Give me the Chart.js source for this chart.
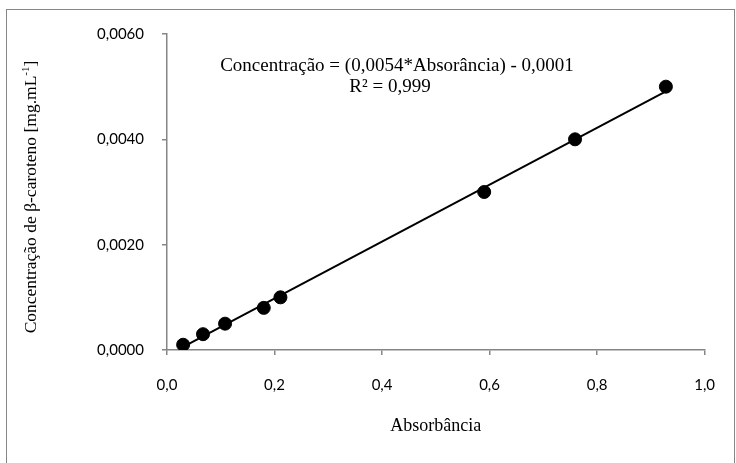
<!DOCTYPE html>
<html>
<head>
<meta charset="utf-8">
<script src="https://cdn.jsdelivr.net/npm/chart.js@4.4.0/dist/chart.umd.min.js"></script>
<style>
    html, body { margin: 0; padding: 0; background: #ffffff; }
    #wrap { width: 736px; height: 463px; position: relative; }
</style>
</head>
<body>
<div id="wrap"><canvas id="calChart" width="736" height="463"></canvas></div>
<script>
const absorbancia = [0.03, 0.067, 0.108, 0.18, 0.211, 0.59, 0.759, 0.928];
const concentracao = [0.0001, 0.0003, 0.0005, 0.0008, 0.001, 0.003, 0.004, 0.005];

// end points of the fitted line as drawn
const trendX = [0.03, 0.928];
const trendY = [0.00006, 0.00491];

const xTicks = [0, 0.2, 0.4, 0.6, 0.8, 1.0];
const yTicks = [0, 0.002, 0.004, 0.006];

const equationText = "Concentração = (0,0054*Absorância) - 0,0001";
const r2Text = "R² = 0,999";
const xTitle = "Absorbância";
const yTitleMain = "Concentração de β-caroteno [mg.mL";
const yTitleSup = "-1";
const yTitleEnd = "]";

const axisGray = "#868686";
const serif = "'Liberation Serif', 'DejaVu Serif', serif";
const sans = "Lato, 'Open Sans', sans-serif";

function toPoints(xs, ys) {
    return xs.map((x, i) => ({ x: x, y: ys[i] }));
}

function commaNum(v, digits) {
    return v.toFixed(digits).replace(".", ",");
}

// frame, titles and equation
const decorPlugin = {
    id: "decor",
    beforeDraw(chart) {
        const ctx = chart.ctx;
        ctx.save();
        ctx.fillStyle = "#ffffff";
        ctx.fillRect(0, 0, chart.width, chart.height);
        ctx.strokeStyle = axisGray;
        ctx.lineWidth = 1;
        ctx.strokeRect(6.5, 9.5, 728, 470);
        ctx.restore();
    },
    afterDraw(chart) {
        const ctx = chart.ctx;
        const area = chart.chartArea;
        ctx.save();
        ctx.fillStyle = "#000000";
        ctx.textAlign = "center";
        ctx.textBaseline = "middle";
        ctx.font = "19px " + serif;
        ctx.fillText(equationText, 397, 66);
        ctx.fillText(r2Text, 390, 87);

        ctx.font = "18px " + serif;
        ctx.fillText(xTitle, (area.left + area.right) / 2, 426);

        // rotated y title with a real superscript
        const mainFont = "17.5px " + serif;
        const supFont = "11px " + serif;
        ctx.font = mainFont;
        const wMain = ctx.measureText(yTitleMain).width;
        const wEnd = ctx.measureText(yTitleEnd).width;
        ctx.font = supFont;
        const wSup = ctx.measureText(yTitleSup).width;
        const total = wMain + wSup + wEnd;

        ctx.translate(30, 197);
        ctx.rotate(-Math.PI / 2);
        ctx.textAlign = "left";
        ctx.textBaseline = "alphabetic";
        let x = -total / 2;
        ctx.font = mainFont;
        ctx.fillText(yTitleMain, x, 6);
        x += wMain;
        ctx.font = supFont;
        ctx.fillText(yTitleSup, x, -1);
        x += wSup;
        ctx.font = mainFont;
        ctx.fillText(yTitleEnd, x, 6);
        ctx.restore();
    },
};

const ctx = document.getElementById("calChart").getContext("2d");

new Chart(ctx, {
    type: "scatter",
    data: {
        datasets: [
            {
                label: "Linear",
                type: "line",
                data: toPoints(trendX, trendY),
                borderColor: "#000000",
                borderWidth: 2,
                pointRadius: 0,
                fill: false,
                order: 2,
            },
            {
                label: "Padrões",
                data: toPoints(absorbancia, concentracao),
                backgroundColor: "#000000",
                borderColor: "#000000",
                pointRadius: 6.5,
                pointHoverRadius: 6.5,
                order: 1,
            },
        ],
    },
    options: {
        responsive: false,
        animation: false,
        layout: {
            padding: { left: 0, top: 34, right: 30, bottom: 0 },
        },
        plugins: {
            legend: { display: false },
            tooltip: { enabled: false },
        },
        scales: {
            x: {
                type: "linear",
                min: 0,
                max: 1,
                afterFit: (s) => { s.height = 113; },
                afterBuildTicks: (s) => { s.ticks = xTicks.map((v) => ({ value: v })); },
                border: { color: axisGray, width: 1.5 },
                grid: {
                    drawOnChartArea: false,
                    color: axisGray,
                    lineWidth: 1.5,
                    tickLength: 5,
                },
                ticks: {
                    color: "#000000",
                    font: { family: sans, size: 15 },
                    padding: 21,
                    maxRotation: 0,
                    callback: (v) => commaNum(v, 1),
                },
            },
            y: {
                type: "linear",
                min: 0,
                max: 0.006,
                afterFit: (s) => { s.width = 167; },
                afterBuildTicks: (s) => { s.ticks = yTicks.map((v) => ({ value: v })); },
                border: { color: axisGray, width: 1.5 },
                grid: {
                    drawOnChartArea: false,
                    color: axisGray,
                    lineWidth: 1.5,
                    tickLength: 5,
                },
                ticks: {
                    color: "#000000",
                    font: { family: sans, size: 15 },
                    padding: 18,
                    callback: (v) => commaNum(v, 4),
                },
            },
        },
    },
    plugins: [decorPlugin],
});
</script>
</body>
</html>
